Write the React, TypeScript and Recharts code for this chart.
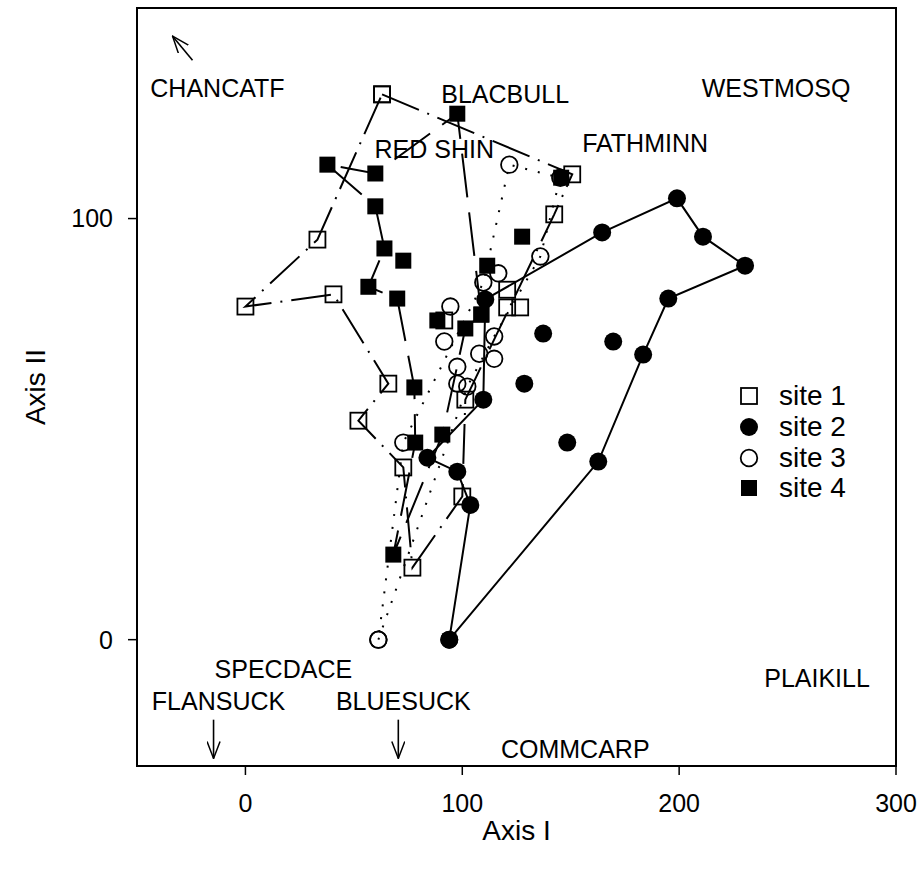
import React from "react";
import { ScatterChart, Scatter, XAxis, YAxis, ReferenceArea, Legend } from "recharts";

type Pt = { x: number; y: number };

const FONT = "'Liberation Sans', Arial, Helvetica, sans-serif";

// axis ticks
const xTicks = [0, 100, 200, 300];
const yTicks = [0, 100];

// site 1 — open squares, dot-dash trajectory (closed loop)
const site1Path: Pt[] = [
  { x: 63, y: 129.5 }, { x: 150.7, y: 110.5 }, { x: 142.4, y: 101 }, { x: 101.4, y: 57 },
  { x: 100, y: 34 }, { x: 77, y: 17.1 }, { x: 72.8, y: 40.9 }, { x: 52.1, y: 52 },
  { x: 65.9, y: 60.8 }, { x: 40.6, y: 82 }, { x: 0, y: 79.1 }, { x: 33.2, y: 95 },
  { x: 63, y: 129.5 },
];
const site1Loose: Pt[] = [
  { x: 120.7, y: 83.1 }, { x: 120.7, y: 78.9 }, { x: 126.7, y: 78.9 }, { x: 91.7, y: 75.8 },
];

// site 2 — filled circles, solid trajectory
const site2Path: Pt[] = [
  { x: 94, y: 0 }, { x: 162.7, y: 42.3 }, { x: 183.4, y: 67.7 }, { x: 195, y: 81 },
  { x: 230.4, y: 88.8 }, { x: 211, y: 95.7 }, { x: 199, y: 104.8 }, { x: 164.5, y: 96.7 },
  { x: 110.6, y: 80.8 }, { x: 109.7, y: 57 }, { x: 83.9, y: 43.2 }, { x: 97.7, y: 39.9 },
  { x: 103.7, y: 32 }, { x: 94, y: 0 },
];
const site2Loose: Pt[] = [
  { x: 137.3, y: 72.7 }, { x: 169.6, y: 70.8 }, { x: 128.6, y: 60.8 }, { x: 148.4, y: 46.8 },
];

// site 3 — open circles, dotted trajectory
const site3Path: Pt[] = [
  { x: 61.3, y: 0 }, { x: 102.3, y: 60.1 }, { x: 114.7, y: 72 }, { x: 136, y: 91 },
  { x: 145.2, y: 109.7 }, { x: 121.7, y: 112.8 }, { x: 109.7, y: 84.8 }, { x: 72.8, y: 46.8 },
  { x: 61.3, y: 0 },
];
const site3Loose: Pt[] = [
  { x: 116.6, y: 87 }, { x: 94.5, y: 79.1 }, { x: 91.7, y: 70.8 }, { x: 114.7, y: 66.7 },
  { x: 107.8, y: 67.9 }, { x: 97.7, y: 64.8 }, { x: 97.7, y: 60.8 },
];

// site 4 — filled squares, long-dash trajectory
const site4Path: Pt[] = [
  { x: 108.8, y: 77.2 }, { x: 97.7, y: 124.9 }, { x: 59.9, y: 110.7 }, { x: 37.8, y: 112.8 },
  { x: 59.9, y: 102.9 }, { x: 64.1, y: 92.9 }, { x: 56.7, y: 83.8 }, { x: 70, y: 81 },
  { x: 77.9, y: 59.9 }, { x: 78.3, y: 46.8 }, { x: 68.2, y: 20.2 }, { x: 90.8, y: 48.7 },
  { x: 101.4, y: 73.9 }, { x: 108.8, y: 77.2 },
];
const site4Loose: Pt[] = [
  { x: 72.8, y: 90 }, { x: 127.6, y: 95.7 }, { x: 145.6, y: 109.7 }, { x: 111.5, y: 88.8 },
  { x: 88.5, y: 75.8 },
];

// species scores
const speciesLabels = [
  { name: "CHANCATF", x: -12.9, y: 130.9 },
  { name: "BLACBULL", x: 119.8, y: 129.5 },
  { name: "WESTMOSQ", x: 244.7, y: 131.1 },
  { name: "RED SHIN", x: 87.1, y: 116.6 },
  { name: "FATHMINN", x: 184.3, y: 118 },
  { name: "SPECDACE", x: 17.5, y: -6.9 },
  { name: "FLANSUCK", x: -12.4, y: -14.5 },
  { name: "BLUESUCK", x: 72.8, y: -14.5 },
  { name: "COMMCARP", x: 152.1, y: -25.9 },
  { name: "PLAIKILL", x: 263.6, y: -9 },
];
const chancatfArrow: Pt[] = [{ x: -24.4, y: 137.6 }, { x: -33.6, y: 143.3 }];
const flansuckArrow: Pt[] = [{ x: -14.7, y: -19 }, { x: -14.7, y: -28.2 }];
const bluesuckArrow: Pt[] = [{ x: 70.5, y: -19 }, { x: 70.5, y: -28.2 }];

const siteNames = ["site 1", "site 2", "site 3", "site 4"];

function OpenSquare(p: any) {
  return <rect x={p.cx - 8} y={p.cy - 8} width={16} height={16} fill="none" stroke="#000" strokeWidth={1.8} />;
}
function FilledCircle(p: any) {
  return <circle cx={p.cx} cy={p.cy} r={9} fill="#000" />;
}
function OpenCircle(p: any) {
  return <circle cx={p.cx} cy={p.cy} r={8.3} fill="none" stroke="#000" strokeWidth={1.8} />;
}
function FilledSquare(p: any) {
  return <rect x={p.cx - 8} y={p.cy - 8} width={16} height={16} fill="#000" />;
}
const shapes = [OpenSquare, FilledCircle, OpenCircle, FilledSquare];

function SpeciesText(p: any) {
  return (
    <text x={p.cx} y={p.cy} textAnchor="middle" dominantBaseline="central" fontSize={25} fontFamily={FONT} fill="#000">
      {p.payload.name}
    </text>
  );
}
const Nothing = () => <g />;

function SiteLegend() {
  return (
    <div style={{ fontFamily: FONT, fontSize: 28, color: "#000" }}>
      {siteNames.map((n, i) => {
        const Shape = shapes[i];
        return (
          <div key={n} style={{ display: "flex", alignItems: "center", height: 30.7 }}>
            <svg width={22} height={22} style={{ marginRight: 19, flex: "none" }}>
              <Shape cx={11} cy={11} />
            </svg>
            <span style={{ whiteSpace: "nowrap" }}>{n}</span>
          </div>
        );
      })}
    </div>
  );
}

function XTitle({ viewBox }: any) {
  return (
    <text x={viewBox.x + viewBox.width / 2} y={830} textAnchor="middle" dominantBaseline="central" fontSize={28} fontFamily={FONT} fill="#000">
      Axis I
    </text>
  );
}
function YTitle({ viewBox }: any) {
  const cx = 35;
  const cy = viewBox.y + viewBox.height / 2;
  return (
    <text x={cx} y={cy} transform={`rotate(-90 ${cx} ${cy})`} textAnchor="middle" dominantBaseline="central" fontSize={28} fontFamily={FONT} fill="#000">
      Axis II
    </text>
  );
}

const tickStyle = { fontSize: 25, fill: "#000", fontFamily: FONT };
const lineBase = { stroke: "#000", strokeWidth: 2 };
const arrowLine = { stroke: "#000", strokeWidth: 1.6, markerEnd: "url(#openArrow)" };

export default function App() {
  return (
    <div style={{ position: "absolute", left: 0, top: 0, background: "#fff" }}>
      <svg width={0} height={0} style={{ position: "absolute" }}>
        <defs>
          <marker id="openArrow" viewBox="0 0 18 14" refX={17} refY={7} markerWidth={18} markerHeight={14} markerUnits="userSpaceOnUse" orient="auto">
            <path d="M0,0.5 L17,7 L0,13.5" fill="none" stroke="#000" strokeWidth={1.5} />
          </marker>
        </defs>
      </svg>
      <ScatterChart width={923} height={876} margin={{ top: 8, right: 27, bottom: 0, left: 0 }}>
        <XAxis
          type="number"
          dataKey="x"
          domain={[-50, 300]}
          ticks={xTicks}
          allowDataOverflow
          axisLine={false}
          tickSize={9}
          tickMargin={19}
          tickLine={{ stroke: "#000", strokeWidth: 1.5 }}
          tick={tickStyle}
          height={110}
          label={{ content: XTitle }}
        />
        <YAxis
          type="number"
          dataKey="y"
          domain={[-30, 150]}
          ticks={yTicks}
          allowDataOverflow
          axisLine={false}
          tickSize={9}
          tickMargin={15}
          tickLine={{ stroke: "#000", strokeWidth: 1.5 }}
          tick={tickStyle}
          width={137}
          label={{ content: YTitle }}
        />
        <ReferenceArea x1={-50} x2={300} y1={-30} y2={150} fill="none" stroke="#000" strokeWidth={2} />

        <Scatter name="site 1" data={site1Path} shape={OpenSquare} line={{ ...lineBase, strokeDasharray: "40 9 2 9" }} isAnimationActive={false} />
        <Scatter name="site 1 extra" data={site1Loose} shape={OpenSquare} legendType="none" isAnimationActive={false} />
        <Scatter name="site 2" data={site2Path} shape={FilledCircle} line={lineBase} isAnimationActive={false} />
        <Scatter name="site 2 extra" data={site2Loose} shape={FilledCircle} legendType="none" isAnimationActive={false} />
        <Scatter name="site 3" data={site3Path} shape={OpenCircle} line={{ ...lineBase, strokeDasharray: "2 11" }} isAnimationActive={false} />
        <Scatter name="site 3 extra" data={site3Loose} shape={OpenCircle} legendType="none" isAnimationActive={false} />
        <Scatter name="site 4" data={site4Path} shape={FilledSquare} line={{ ...lineBase, strokeDasharray: "44 15" }} isAnimationActive={false} />
        <Scatter name="site 4 extra" data={site4Loose} shape={FilledSquare} legendType="none" isAnimationActive={false} />

        <Scatter name="species" data={speciesLabels} shape={SpeciesText} legendType="none" isAnimationActive={false} />
        <Scatter name="a1" data={chancatfArrow} shape={Nothing} line={arrowLine} legendType="none" isAnimationActive={false} />
        <Scatter name="a2" data={flansuckArrow} shape={Nothing} line={arrowLine} legendType="none" isAnimationActive={false} />
        <Scatter name="a3" data={bluesuckArrow} shape={Nothing} line={arrowLine} legendType="none" isAnimationActive={false} />

        <Legend
          layout="horizontal"
          verticalAlign="middle"
          align="center"
          content={SiteLegend}
          wrapperStyle={{ position: "absolute", left: 738, top: 381, width: 160, height: 124 }}
        />
      </ScatterChart>
    </div>
  );
}
